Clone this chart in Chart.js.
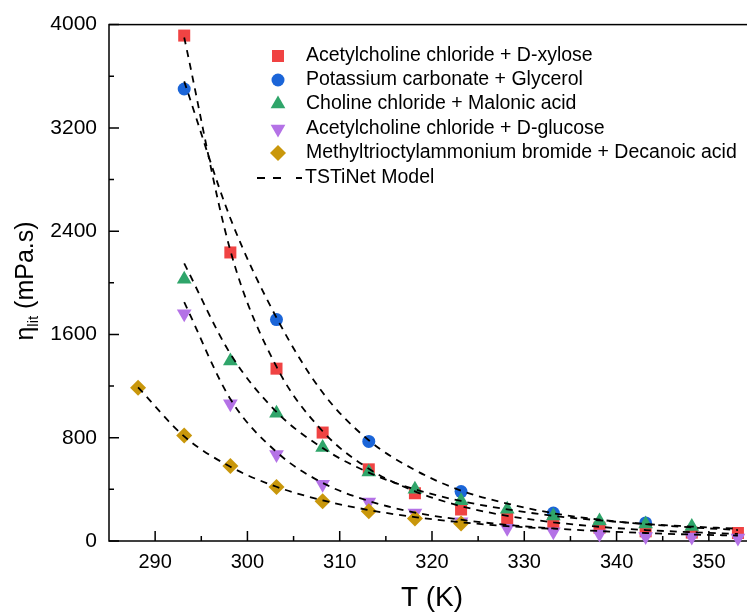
<!DOCTYPE html>
<html>
<head>
<meta charset="utf-8">
<script src="https://cdn.jsdelivr.net/npm/chart.js@4.4.1/dist/chart.umd.min.js"></script>
<style>
    html, body { margin: 0; padding: 0; background: #fff; overflow: hidden; }
    #wrap { width: 770px; height: 615px; }
</style>
</head>
<body>
<div id="wrap"><canvas id="viscChart" width="770" height="615"></canvas></div>
<script>
const FONT = 'Arial, "Liberation Sans", sans-serif';

// measured viscosities (mPa.s) vs temperature (K)
const xyloseTemps = [293.15, 298.15, 303.15, 308.15, 313.15, 318.15, 323.15, 328.15, 333.15, 338.15, 343.15, 348.15, 353.15];
const xyloseVisc = [3915, 2235, 1335, 840, 555, 370, 244, 177, 139, 103, 75, 65, 62];

const carbonateTemps = [293.15, 303.15, 313.15, 323.15, 333.15, 343.15];
const carbonateVisc = [3501, 1715, 771, 383, 216, 140];

const malonicTemps = [293.15, 298.15, 303.15, 308.15, 313.15, 318.15, 323.15, 328.15, 333.15, 338.15, 343.15, 348.15];
const malonicVisc = [2027, 1395, 989, 724, 534, 401, 311, 246, 193, 154, 131, 113];

const glucoseTemps = [293.15, 298.15, 303.15, 308.15, 313.15, 318.15, 323.15, 328.15, 333.15, 338.15, 343.15, 348.15, 353.15];
const glucoseVisc = [1760, 1063, 670, 440, 303, 216, 150, 98, 72, 54, 35, 31, 23];

const decanoicTemps = [288.15, 293.15, 298.15, 303.15, 308.15, 313.15, 318.15, 323.15];
const decanoicVisc = [1187, 817, 580, 419, 308, 231, 175, 136];

// TSTiNet model curves
const modelTemps = [293.15, 298.15, 303.15, 308.15, 313.15, 318.15, 323.15, 328.15, 333.15, 338.15, 343.15, 348.15, 353.15];
const xyloseModel = [3900, 2250, 1350, 850, 560, 385, 270, 195, 145, 110, 85, 68, 55];
const carbonateModel = [3560, 2500, 1730, 1150, 780, 550, 390, 290, 215, 165, 130, 105, 85];
const malonicModel = [2150, 1450, 1000, 720, 530, 400, 310, 245, 195, 160, 132, 112, 95];
const glucoseModel = [1850, 1100, 690, 450, 310, 220, 165, 125, 97, 77, 62, 50, 42];
const decanoicModelTemps = [288.15, 293.15, 298.15, 303.15, 308.15, 313.15, 318.15, 323.15, 328.15, 333.15];
const decanoicModel = [1190, 810, 575, 420, 315, 240, 185, 145, 115, 93];

const xTicks = [290, 300, 310, 320, 330, 340, 350];
const xMinorTicks = [295, 305, 315, 325, 335, 345, 355];
const yTicks = [0, 800, 1600, 2400, 3200, 4000];
const yMinorTicks = [400, 1200, 2000, 2800, 3600];

const legendLabels = [
    'Acetylcholine chloride + D-xylose',
    'Potassium carbonate + Glycerol',
    'Choline chloride + Malonic acid',
    'Acetylcholine chloride + D-glucose',
    'Methyltrioctylammonium bromide + Decanoic acid'
];

function toPoints(xs, ys) {
    return ys.map((y, i) => ({ x: xs[i], y: y }));
}

function markerSet(label, xs, ys, color, style, radius, rotation, order) {
    return {
        type: 'scatter',
        label: label,
        data: toPoints(xs, ys),
        backgroundColor: color,
        borderColor: color,
        borderWidth: 0,
        pointStyle: style,
        pointRadius: radius,
        pointRotation: rotation,
        clip: false,
        order: order
    };
}

function modelSet(xs, ys) {
    return {
        type: 'line',
        label: 'TSTiNet Model',
        data: toPoints(xs, ys),
        borderColor: '#000',
        borderWidth: 1.8,
        borderDash: [7, 6],
        pointRadius: 0,
        fill: false,
        cubicInterpolationMode: 'monotone',
        order: 0
    };
}

const markers = [
    { color: '#f04343', style: 'rect', radius: 8.5, rotation: 0 },
    { color: '#1b65d8', style: 'circle', radius: 6.5, rotation: 0 },
    { color: '#2fa56a', style: 'triangle', radius: 8.5, rotation: 0 },
    { color: '#b472e6', style: 'triangle', radius: 8.5, rotation: 180 },
    { color: '#c9970b', style: 'rectRot', radius: 8, rotation: 0 }
];

function drawYTitle(ctx) {
    ctx.save();
    ctx.translate(24, 281);
    ctx.rotate(-Math.PI / 2);
    ctx.fillStyle = '#000';
    ctx.textBaseline = 'alphabetic';
    const big = '25px ' + FONT;
    const small = '15px ' + FONT;
    ctx.font = big;
    const w1 = ctx.measureText('η').width;
    const w3 = ctx.measureText(' (mPa.s)').width;
    ctx.font = small;
    const w2 = ctx.measureText('lit').width;
    let x = -(w1 + w2 + w3) / 2;
    const base = 9;
    ctx.font = big;
    ctx.fillText('η', x, base);
    x += w1;
    ctx.font = small;
    ctx.fillText('lit', x, base + 5);
    x += w2;
    ctx.font = big;
    ctx.fillText(' (mPa.s)', x, base);
    ctx.restore();
}

function drawLegend(ctx) {
    const rowsY = [56, 80, 104, 129, 153, 178];
    ctx.save();
    ctx.font = '19.5px ' + FONT;
    ctx.textBaseline = 'middle';
    markers.forEach((m, i) => {
        ctx.fillStyle = m.color;
        ctx.strokeStyle = m.color;
        Chart.helpers.drawPoint(ctx, { pointStyle: m.style, radius: m.radius, rotation: m.rotation, borderWidth: 0 }, 278, rowsY[i]);
        ctx.fillStyle = '#000';
        ctx.fillText(legendLabels[i], 306, rowsY[i]);
    });
    ctx.strokeStyle = '#000';
    ctx.lineWidth = 1.8;
    ctx.beginPath();
    [[257, 265], [273, 281], [296, 302]].forEach(seg => {
        ctx.moveTo(seg[0], rowsY[5]);
        ctx.lineTo(seg[1], rowsY[5]);
    });
    ctx.stroke();
    ctx.fillStyle = '#000';
    ctx.fillText('TSTiNet Model', 305, rowsY[5]);
    ctx.restore();
}

const framePlugin = {
    id: 'framePlugin',
    beforeDatasetsDraw(chart) {
        const { ctx, chartArea: a, scales } = chart;
        ctx.save();
        ctx.strokeStyle = '#000';
        ctx.lineWidth = 1.5;
        ctx.strokeRect(a.left, a.top, a.right - a.left, a.bottom - a.top);
        ctx.beginPath();
        xTicks.forEach(v => {
            const px = scales.x.getPixelForValue(v);
            ctx.moveTo(px, a.bottom); ctx.lineTo(px, a.bottom - 10);
        });
        xMinorTicks.forEach(v => {
            const px = scales.x.getPixelForValue(v);
            ctx.moveTo(px, a.bottom); ctx.lineTo(px, a.bottom - 5);
        });
        yTicks.forEach(v => {
            const py = scales.y.getPixelForValue(v);
            ctx.moveTo(a.left, py); ctx.lineTo(a.left + 10, py);
        });
        yMinorTicks.forEach(v => {
            const py = scales.y.getPixelForValue(v);
            ctx.moveTo(a.left, py); ctx.lineTo(a.left + 5, py);
        });
        ctx.stroke();
        ctx.restore();
    },
    afterDraw(chart) {
        drawLegend(chart.ctx);
        drawYTitle(chart.ctx);
    }
};

new Chart(document.getElementById('viscChart'), {
    type: 'scatter',
    data: {
        datasets: [
            modelSet(modelTemps, xyloseModel),
            modelSet(modelTemps, carbonateModel),
            modelSet(modelTemps, malonicModel),
            modelSet(modelTemps, glucoseModel),
            modelSet(decanoicModelTemps, decanoicModel),
            markerSet(legendLabels[4], decanoicTemps, decanoicVisc, markers[4].color, markers[4].style, markers[4].radius, 0, 1),
            markerSet(legendLabels[3], glucoseTemps, glucoseVisc, markers[3].color, markers[3].style, markers[3].radius, 180, 2),
            markerSet(legendLabels[2], malonicTemps, malonicVisc, markers[2].color, markers[2].style, markers[2].radius, 0, 3),
            markerSet(legendLabels[0], xyloseTemps, xyloseVisc, markers[0].color, markers[0].style, markers[0].radius, 0, 4),
            markerSet(legendLabels[1], carbonateTemps, carbonateVisc, markers[1].color, markers[1].style, markers[1].radius, 0, 5)
        ]
    },
    options: {
        responsive: false,
        animation: false,
        devicePixelRatio: 1,
        layout: { padding: { top: 22, right: 15, left: 0, bottom: 0 } },
        plugins: {
            legend: { display: false },
            tooltip: { enabled: false }
        },
        scales: {
            x: {
                type: 'linear',
                min: 285,
                max: 355,
                grid: { display: false, drawTicks: false },
                border: { display: false },
                afterBuildTicks: s => { s.ticks = xTicks.map(v => ({ value: v })); },
                afterFit: s => { s.height = 74; },
                ticks: { font: { family: FONT, size: 20 }, color: '#000', padding: 9, maxRotation: 0, autoSkip: false, callback: v => String(v) },
                title: { display: true, text: 'T (K)', font: { family: FONT, size: 28 }, color: '#000', padding: { top: 0, bottom: 0 } }
            },
            y: {
                type: 'linear',
                min: 0,
                max: 4000,
                grid: { display: false, drawTicks: false },
                border: { display: false },
                afterBuildTicks: s => { s.ticks = yTicks.map(v => ({ value: v })); },
                afterFit: s => { s.width = 109; },
                ticks: { font: { family: FONT, size: 21 }, color: '#000', padding: 12, autoSkip: false, callback: v => String(v) }
            }
        }
    },
    plugins: [framePlugin]
});
</script>
</body>
</html>
